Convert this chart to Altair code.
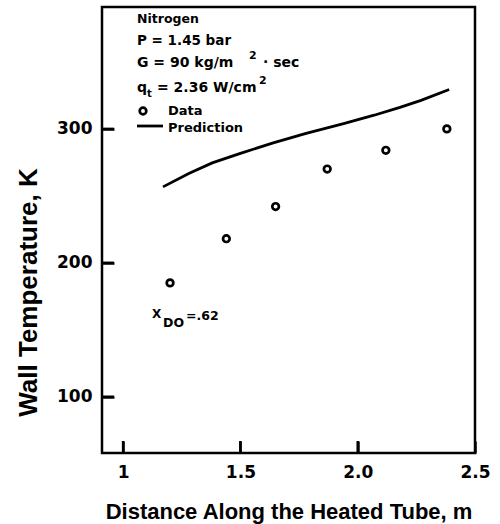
import altair as alt
import pandas as pd

# Measured wall temperatures along the heated tube
data_x = [1.20, 1.44, 1.65, 1.87, 2.12, 2.38]
data_t = [185, 218, 242, 270, 284, 300]

# Predicted wall temperature curve
pred_x = [1.17, 1.28, 1.38, 1.50, 1.64, 1.78, 1.94, 2.07, 2.18, 2.27, 2.39]
pred_t = [256.7, 266.7, 274.6, 281.7, 289.6, 296.6, 304.0, 310.2, 316.0, 321.3, 329.4]

# Axis ticks
x_ticks = [1.0, 1.5, 2.0, 2.5]
y_ticks = [100, 200, 300]

X_DOMAIN = [0.91, 2.5]
Y_DOMAIN = [58, 391]

W, H = 373, 446
TICK_LEN = 12  # ticks point into the plot: axis pulled inward by this much
TEXT_FONT = "Liberation Sans"
NUM_FONT = "DejaVu Sans"

xs = alt.Scale(domain=X_DOMAIN, nice=False, zero=False)
ys = alt.Scale(domain=Y_DOMAIN, nice=False, zero=False)

meas = pd.DataFrame({"x": data_x, "t": data_t})
pred = pd.DataFrame({"x": pred_x, "t": pred_t})

# tick segments in data units, drawn through the scales
x_per_px = (X_DOMAIN[1] - X_DOMAIN[0]) / W
t_per_px = (Y_DOMAIN[1] - Y_DOMAIN[0]) / H
ytick_df = pd.DataFrame({
    "x": [X_DOMAIN[0]] * len(y_ticks),
    "x2": [X_DOMAIN[0] + TICK_LEN * x_per_px] * len(y_ticks),
    "t": y_ticks,
})
xtick_df = pd.DataFrame({
    "x": x_ticks[:3],
    "t": [Y_DOMAIN[0]] * 3,
    "t2": [Y_DOMAIN[0] + TICK_LEN * t_per_px] * 3,
})

x_axis = alt.Axis(
    values=x_ticks,
    labelExpr="datum.value == 1 ? '1' : format(datum.value, '.1f')",
    title="Distance Along the Heated Tube, m",
    grid=False, domain=False,
    offset=-TICK_LEN, ticks=True, tickSize=TICK_LEN,
    tickWidth=2.5, tickColor="black",
    labelFont=NUM_FONT, labelFontSize=17, labelFontWeight="bold",
    labelColor="black", labelPadding=11, labelFlush=False,
    titleFont=TEXT_FONT, titleFontSize=22, titleFontWeight="bold",
    titleColor="black", titleY=65 + TICK_LEN, titleBaseline="alphabetic",
)
y_axis = alt.Axis(
    values=y_ticks, format="d",
    title="Wall Temperature, K",
    grid=False, domain=False,
    offset=-TICK_LEN, ticks=True, tickSize=TICK_LEN,
    tickWidth=2.5, tickColor="black",
    labelFont=NUM_FONT, labelFontSize=17, labelFontWeight="bold",
    labelColor="black", labelPadding=10,
    titleFont=TEXT_FONT, titleFontSize=26, titleFontWeight="bold",
    titleColor="black", titleX=-74 - TICK_LEN, titleY=285, titleAngle=270,
    titleAlign="center", titleBaseline="middle",
)

# Prediction curve (carries the axes)
line = alt.Chart(pred).mark_line(color="black", strokeWidth=2.8).encode(
    x=alt.X("x:Q", scale=xs, axis=x_axis),
    y=alt.Y("t:Q", scale=ys, axis=y_axis),
)

# Measured points: open circles
points = alt.Chart(meas).mark_point(
    shape="circle", filled=False, color="black", opacity=1,
    size=44, strokeWidth=2.7,
).encode(x=alt.X("x:Q", scale=xs), y=alt.Y("t:Q", scale=ys))

# Inward tick segments on the left and bottom edges
yt = alt.Chart(ytick_df).mark_rule(color="black", strokeWidth=2.5).encode(
    x=alt.X("x:Q", scale=xs), x2="x2:Q", y=alt.Y("t:Q", scale=ys),
)
xt = alt.Chart(xtick_df).mark_rule(color="black", strokeWidth=2.5).encode(
    x=alt.X("x:Q", scale=xs), y=alt.Y("t:Q", scale=ys), y2="t2:Q",
)


def label(text, x, y, size=14, font=NUM_FONT):
    return alt.Chart(pd.DataFrame({"s": [text]})).mark_text(
        align="left", baseline="alphabetic", font=font,
        fontWeight="bold", fontSize=size, color="black",
    ).encode(x=alt.value(x), y=alt.value(y), text="s:N")


notes = [
    label("Nitrogen", 35, 16, 12.5),
    label("P = 1.45 bar", 35, 38, 13.5),
    label("G  =  90  kg/m", 35, 60),
    label("2", 147, 52, 11),
    label("\u00b7 sec", 161, 60),
    label("q", 35, 85),
    label("t", 45, 90, 10),
    label("= 2.36 W/cm", 55, 85),
    label("2", 157, 77, 11),
    label("Data", 66, 108, 13),
    label("Prediction", 66, 125, 13),
    label("X", 50, 311, 12),
    label("DO", 61, 320, 12.5),
    label("=.62", 84, 313, 12.5),
]

key_point = alt.Chart(pd.DataFrame({"k": ["Data"]})).mark_point(
    shape="circle", filled=False, color="black", opacity=1,
    size=44, strokeWidth=2.7,
).encode(x=alt.value(41), y=alt.value(104))
key_line = alt.Chart(pd.DataFrame({"k": ["Prediction"]})).mark_rule(
    color="black", strokeWidth=2.8
).encode(x=alt.value(35), x2=alt.value(61), y=alt.value(119))

chart = alt.layer(
    line, points, key_point, key_line, *notes, yt, xt
).properties(
    width=W, height=H,
    padding={"left": 102, "top": 7, "right": 25, "bottom": 71},
    autosize=alt.AutoSizeParams(type="none"),
    background="white",
).configure_view(stroke="black", strokeWidth=2.5)

chart.save("out.html", embed_options={"renderer": "svg", "actions": False})
